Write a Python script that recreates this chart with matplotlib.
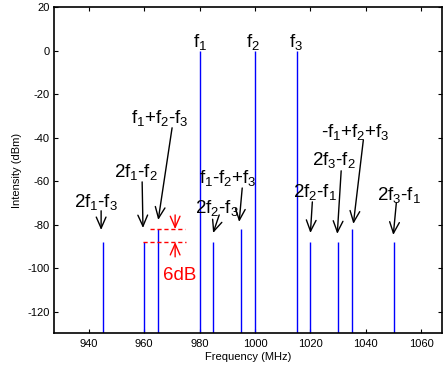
import matplotlib
matplotlib.use("Agg")
import matplotlib.pyplot as plt

plt.rcParams['font.family'] = ['Liberation Sans', 'DejaVu Sans']
plt.rcParams['mathtext.fontset'] = 'custom'
plt.rcParams['mathtext.rm'] = 'Liberation Sans'
plt.rcParams['mathtext.it'] = 'Liberation Sans'
plt.rcParams['axes.unicode_minus'] = False

# spectral lines (MHz, dBm)
freqs = [945, 960, 965, 980, 985, 995, 1000, 1015, 1020, 1030, 1035, 1050]
levels = [-88, -88, -82, 0, -88, -82, 0, 0, -88, -88, -82, -88]

# main tones
tone_labels = [r'f$_1$', r'f$_2$', r'f$_3$']
tone_x = [980.2, 999.4, 1014.9]
tone_y = 4.1

# intermod labels: text, text pos, arrow tail, arrow tip
im_labels = [r'2f$_1$-f$_3$', r'2f$_1$-f$_2$', r'f$_1$+f$_2$-f$_3$',
             r'f$_1$-f$_2$+f$_3$', r'2f$_2$-f$_3$', r'-f$_1$+f$_2$+f$_3$',
             r'2f$_3$-f$_2$', r'2f$_2$-f$_1$', r'2f$_3$-f$_1$']
im_text = [(942.7, -69.5), (957.1, -55.7), (965.8, -30.8),
           (990.3, -58.5), (986.4, -72.3), (1036.2, -37.3),
           (1028.6, -50.2), (1021.8, -64.9), (1052.1, -66.3)]
im_tail = [(944.5, -73.6), (959.3, -60.3), (970.1, -35.4),
           (995.4, -63.1), (987.1, -75.5), (1039.1, -41.0),
           (1031.1, -55.2), (1020.7, -69.5), (1051.0, -70.0)]
im_tip = [(944.5, -82.4), (959.6, -81.5), (965.1, -77.8),
          (994.3, -78.7), (984.9, -83.8), (1035.5, -79.6),
          (1029.7, -84.2), (1020.0, -83.8), (1049.9, -84.7)]

# 6 dB marker
upper_db, lower_db = -82, -88
upper_span = (962.2, 974.8)
lower_span = (959.6, 975.0)
marker_x = 971.2

fig = plt.figure(figsize=(4.43, 3.70), dpi=100)
ax = fig.add_axes([0.1219, 0.099, 0.876, 0.881])

ax.vlines(freqs, -130, levels, color='blue', lw=1.0)

for lab, x in zip(tone_labels, tone_x):
    ax.text(x, tone_y, lab, ha='center', va='center', fontsize=13.5)

arr = dict(arrowstyle='->,head_length=0.8,head_width=0.35', lw=1.0,
           color='black', shrinkA=0, shrinkB=0)
for lab, tp, tail, tip in zip(im_labels, im_text, im_tail, im_tip):
    ax.text(tp[0], tp[1], lab, ha='center', va='center', fontsize=13.5)
    ax.annotate('', xy=tip, xytext=tail, arrowprops=arr)

ax.plot(upper_span, [upper_db, upper_db], color='red', lw=1.0, ls=(0, (3, 2)))
ax.plot(lower_span, [lower_db, lower_db], color='red', lw=1.0, ls=(0, (3, 2)))
rarr = dict(arr, color='red')
ax.annotate('', xy=(marker_x, upper_db), xytext=(marker_x, -75.5), arrowprops=rarr)
ax.annotate('', xy=(marker_x, lower_db), xytext=(marker_x, -94.8), arrowprops=rarr)
ax.text(973.0, -103.6, '6dB', color='red', ha='center', va='center', fontsize=13.5)

ax.set_xlim(927.5, 1067.5)
ax.set_ylim(-130, 20)
ax.set_xticks(range(940, 1061, 20))
ax.set_yticks(range(-120, 21, 20))
ax.tick_params(direction='in', length=3, width=0.8, top=True, right=True,
               labelsize=8)
ax.tick_params(axis='y', pad=3)
ax.tick_params(axis='x', pad=4)
for s in ax.spines.values():
    s.set_linewidth(1.2)
ax.set_xlabel('Frequency (MHz)', fontsize=8, labelpad=2)
ax.set_ylabel('Intensity (dBm)', fontsize=8, labelpad=4)

fig.savefig('out.png', dpi=100)
